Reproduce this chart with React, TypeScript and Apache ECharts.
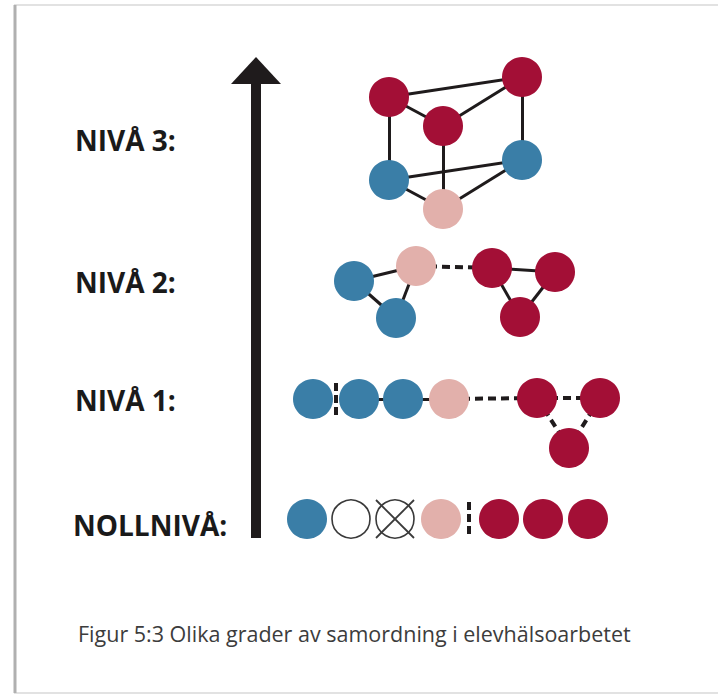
import { useEffect, useRef } from 'react';
import * as echarts from 'echarts';

// ---- data ----
const caption = 'Figur 5:3 Olika grader av samordning i elevhälsoarbetet';
const levelLabels = ['NIVÅ 3:', 'NIVÅ 2:', 'NIVÅ 1:', 'NOLLNIVÅ:'];
const levelLabelX = [75, 75, 75, 73];
const levelLabelY = [140, 282, 400, 525];

type NodeT = [string, number, number, string];
const level3Nodes: NodeT[] = [
  ['n3tl', 389, 97, 'red'],
  ['n3tr', 522, 77, 'red'],
  ['n3m', 443, 126, 'red'],
  ['n3bl', 389, 180, 'blue'],
  ['n3br', 522, 160, 'blue'],
  ['n3p', 443, 209, 'pink'],
];
const level2Nodes: NodeT[] = [
  ['n2b1', 354, 281, 'blue'],
  ['n2p', 416, 266, 'pink'],
  ['n2b2', 396, 318, 'blue'],
  ['n2r1', 492, 268, 'red'],
  ['n2r2', 555, 272, 'red'],
  ['n2r3', 520, 317, 'red'],
];
const level1Nodes: NodeT[] = [
  ['n1b1', 313, 399, 'blue'],
  ['n1b2', 359, 399, 'blue'],
  ['n1b3', 403, 399, 'blue'],
  ['n1p', 449, 399, 'pink'],
  ['n1r1', 537, 398, 'red'],
  ['n1r2', 600, 398, 'red'],
  ['n1r3', 569, 448, 'red'],
];
const level0Nodes: NodeT[] = [
  ['n0b', 307, 519, 'blue'],
  ['n0e', 351, 519, 'empty'],
  ['n0x', 395, 519, 'crossed'],
  ['n0p', 441, 519, 'pink'],
  ['n0r1', 499, 519, 'red'],
  ['n0r2', 543, 519, 'red'],
  ['n0r3', 588, 519, 'red'],
];

type LinkT = [string, string, string];
const links: LinkT[] = [
  ['n3tl', 'n3tr', 'solid'],
  ['n3tl', 'n3m', 'solid'],
  ['n3m', 'n3tr', 'solid'],
  ['n3tl', 'n3bl', 'solid'],
  ['n3tr', 'n3br', 'solid'],
  ['n3m', 'n3p', 'solid'],
  ['n3bl', 'n3br', 'solid'],
  ['n3bl', 'n3p', 'solid'],
  ['n3p', 'n3br', 'solid'],
  ['n2b1', 'n2p', 'solid'],
  ['n2b1', 'n2b2', 'solid'],
  ['n2p', 'n2b2', 'solid'],
  ['n2p', 'n2r1', 'dashed'],
  ['n2r1', 'n2r2', 'solid'],
  ['n2r1', 'n2r3', 'solid'],
  ['n2r2', 'n2r3', 'solid'],
  ['n1b2', 'n1b3', 'solid'],
  ['n1b3', 'n1p', 'solid'],
  ['n1p', 'n1r1', 'dashed'],
  ['n1r1', 'n1r2', 'dashed'],
  ['n1r1', 'n1r3', 'dashed'],
  ['n1r2', 'n1r3', 'dashed'],
];

// vertical dashed separators [x, y1, y2]
const separators: [number, number, number][] = [
  [336, 383, 415],
  [469, 502, 537],
];

// ---- styles ----
const COLORS: Record<string, string> = {
  red: '#a30f36',
  blue: '#3a7ea7',
  pink: '#e2b0ab',
};
const NODE_SIZE = 40;
const INK = '#1f1b1c';

export default function App() {
  const ref = useRef<HTMLDivElement>(null);
  useEffect(() => {
    if (!ref.current) return;
    const chart = echarts.init(ref.current, null, { renderer: 'svg' });
    const allNodes = [...level3Nodes, ...level2Nodes, ...level1Nodes, ...level0Nodes];
    const nodeData = allNodes.map(([name, x, y, kind]) => {
      const hollow = kind === 'empty' || kind === 'crossed';
      return {
        name,
        value: [x, y],
        symbolSize: hollow ? NODE_SIZE - 2 : NODE_SIZE,
        itemStyle: hollow
          ? { color: '#ffffff', borderColor: '#3a3a3a', borderWidth: 1.6 }
          : { color: COLORS[kind], borderWidth: 0 },
      };
    });
    const linkData = links.map(([s, t, style]) => ({
      source: s,
      target: t,
      lineStyle:
        style === 'dashed'
          ? { type: [8, 5], width: 4, color: INK }
          : { type: 'solid', width: 3, color: INK },
    }));
    const crossNodes = allNodes.filter((n) => n[3] === 'crossed');
    const r = NODE_SIZE / 2 - 1;
    const crossLines = crossNodes.flatMap(([, x, y]) => [
      { coords: [[x - r, y - r], [x + r, y + r]] },
      { coords: [[x - r, y + r], [x + r, y - r]] },
    ]);
    const sepLines = separators.map(([x, y1, y2]) => ({ coords: [[x, y1], [x, y2]] }));

    chart.setOption({
      animation: false,
      backgroundColor: '#ffffff',
      title: {
        text: caption,
        left: 73,
        top: 617,
        textStyle: {
          fontFamily: 'Open Sans',
          fontSize: 21.5,
          fontWeight: 'normal',
          color: '#3c3c3c',
        },
      },
      grid: { left: 0, right: 0, top: 0, bottom: 0, containLabel: false },
      xAxis: { type: 'value', min: 0, max: 718, show: false },
      yAxis: { type: 'value', min: 0, max: 696, inverse: true, show: false },
      graphic: [
        {
          type: 'rect',
          z: -10,
          shape: { x: 15, y: 5, width: 720, height: 688 },
          style: { fill: '#ffffff', stroke: '#e2e2e2', lineWidth: 2 },
        },
        {
          type: 'line',
          z: -9,
          shape: { x1: 15, y1: 5, x2: 15, y2: 693 },
          style: { stroke: '#b0b0b0', lineWidth: 3 },
        },
        {
          type: 'rect',
          z: -8,
          shape: { x: 251, y: 82, width: 10, height: 456 },
          style: { fill: INK },
        },
        {
          type: 'polygon',
          z: -8,
          shape: { points: [[256, 57], [231, 84], [281, 84]] },
          style: { fill: INK },
        },
      ],
      series: [
        {
          type: 'lines',
          coordinateSystem: 'cartesian2d',
          z: 1,
          data: sepLines,
          lineStyle: { color: INK, width: 4, type: [8, 4], opacity: 1 },
        },
        {
          type: 'graph',
          coordinateSystem: 'cartesian2d',
          layout: 'none',
          z: 2,
          symbol: 'circle',
          data: nodeData,
          links: linkData,
          lineStyle: { opacity: 1, curveness: 0 },
          label: { show: false },
          emphasis: { disabled: true },
        },
        {
          type: 'lines',
          coordinateSystem: 'cartesian2d',
          z: 5,
          data: crossLines,
          lineStyle: { color: '#3a3a3a', width: 1.8, type: 'solid', opacity: 1 },
        },
        {
          type: 'scatter',
          z: 3,
          symbolSize: 0,
          itemStyle: { opacity: 1 },
          emphasis: { disabled: true },
          data: levelLabels.map((name, i) => ({ name, value: [levelLabelX[i], levelLabelY[i]] })),
          label: {
            show: true,
            position: 'right',
            distance: 0,
            formatter: '{b}',
            fontFamily: 'Open Sans',
            fontWeight: 'bold',
            fontSize: 28,
            color: '#1a1a1a',
            opacity: 1,
            textBorderWidth: 0,
          },
        },
      ],
    });
    return () => chart.dispose();
  }, []);
  return (
    <div
      ref={ref}
      style={{ position: 'fixed', left: 0, top: 0, width: 718, height: 696 }}
    />
  );
}
